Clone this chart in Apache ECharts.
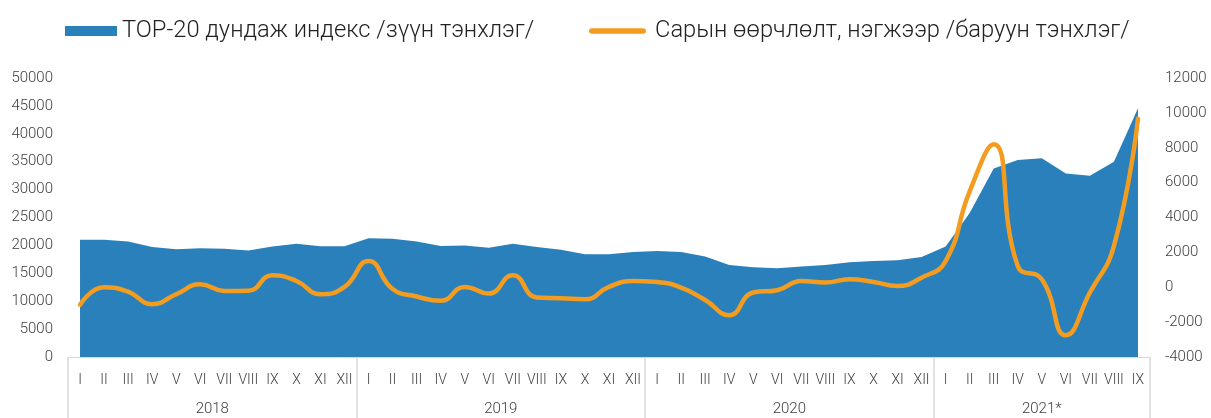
<!DOCTYPE html>
<html><head><meta charset="utf-8">
<script src="https://cdn.jsdelivr.net/npm/echarts@6/dist/echarts.min.js"></script>
<style>html,body{margin:0;padding:0;background:#fff}#c{width:1211px;height:418px}</style>
</head><body><div id="c"></div>
<script>
const months = ['I','II','III','IV','V','VI','VII','VIII','IX','X','XI','XII',
  'I','II','III','IV','V','VI','VII','VIII','IX','X','XI','XII',
  'I','II','III','IV','V','VI','VII','VIII','IX','X','XI','XII',
  'I','II','III','IV','V','VI','VII','VIII','IX'];
const years = ['2018','2019','2020','2021*'];
const yearCenters = [6, 18, 30, 40.5];
const yearStarts = [0, 12, 24, 36];
const top20Index = [21000,21000,20700,19700,19300,19500,19400,19100,19800,20300,19850,19850,
  21300,21200,20700,19900,19970,19600,20300,19700,19200,18400,18400,18800,
  19000,18800,18000,16500,16100,15900,16200,16500,17000,17200,17350,17900,
  19800,25800,33800,35300,35600,32900,32500,35000,44600];
const monthlyChange = [-1000,0,-250,-970,-400,170,-210,-200,690,360,-400,20,
  1500,-100,-530,-780,20,-360,690,-590,-630,-690,20,360,
  300,-20,-730,-1600,-300,-170,360,270,460,300,75,550,
  1500,5500,8200,1220,460,-2750,-300,2370,9670];
const nameA = 'TOP-20 дундаж индекс /зүүн тэнхлэг/';
const nameB = 'Сарын өөрчлөлт, нэгжээр /баруун тэнхлэг/';
const FONT = 'Roboto';
const chart = echarts.init(document.getElementById('c'));
const lblColor = '#404040';
const sepColor = '#d9d9d9';
const legendText = {fontSize: 23.7, fontWeight: 300, color: '#222', fontFamily: FONT};
chart.setOption({
  animation: false,
  textStyle: {fontFamily: FONT},
  legend: [
    {data: [{name: nameA, icon: 'rect'}], left: 60, top: 14, itemWidth: 52, itemHeight: 10,
     textStyle: legendText},
    {data: [{name: nameB, icon: 'path://M0,0 M2.8,2.2 L54.2,2.2 A2.8,2.8 0 0 1 54.2,7.8 L2.8,7.8 A2.8,2.8 0 0 1 2.8,2.2 Z M61,10'}],
     left: 584, top: 14, itemWidth: 61, itemHeight: 10, textStyle: legendText}
  ],
  grid: {left: 68, right: 61, top: 78, bottom: 61},
  xAxis: [
    {type: 'category', data: months, boundaryGap: true,
     axisLine: {show: true, lineStyle: {color: sepColor, width: 1}},
     axisTick: {show: true, inside: false, length: 61, interval: (i) => yearStarts.indexOf(i) >= 0,
       lineStyle: {color: sepColor, width: 1.5}},
     axisLabel: {interval: 0, margin: 16, fontSize: 14, color: lblColor, fontFamily: FONT, fontWeight: 300},
     splitLine: {show: false}},
    {type: 'value', min: 0, max: 45, position: 'bottom',
     axisLine: {show: false},
     axisTick: {show: false},
     axisLabel: {customValues: yearCenters, margin: 45, fontSize: 15, color: lblColor, fontFamily: FONT, fontWeight: 300,
       formatter: v => years[yearCenters.indexOf(v)] || ''},
     splitLine: {show: false}}
  ],
  yAxis: [
    {type: 'value', min: 0, max: 50000, interval: 5000, position: 'left',
     axisLine: {show: false}, axisTick: {show: false}, splitLine: {show: false},
     axisLabel: {margin: 15, fontSize: 15, color: lblColor, fontFamily: FONT, fontWeight: 300, formatter: v => String(v)}},
    {type: 'value', min: -4000, max: 12000, interval: 2000, position: 'right',
     axisLine: {show: false}, axisTick: {show: false}, splitLine: {show: false},
     axisLabel: {margin: 15, fontSize: 15, color: lblColor, fontFamily: FONT, fontWeight: 300, formatter: v => String(v)}}
  ],
  series: [
    {name: nameA, type: 'line', xAxisIndex: 0, yAxisIndex: 0, data: top20Index,
     symbol: 'none', lineStyle: {width: 0}, itemStyle: {color: '#2980BA'},
     areaStyle: {color: '#2980BA', opacity: 1}},
    {name: nameB, type: 'line', xAxisIndex: 0, yAxisIndex: 1, data: monthlyChange,
     symbol: 'none', smooth: 0.5, itemStyle: {color: '#F39C1F'},
     lineStyle: {width: 4.5, color: '#F39C1F', cap: 'round', join: 'round'}}
  ]
});
</script></body></html>
